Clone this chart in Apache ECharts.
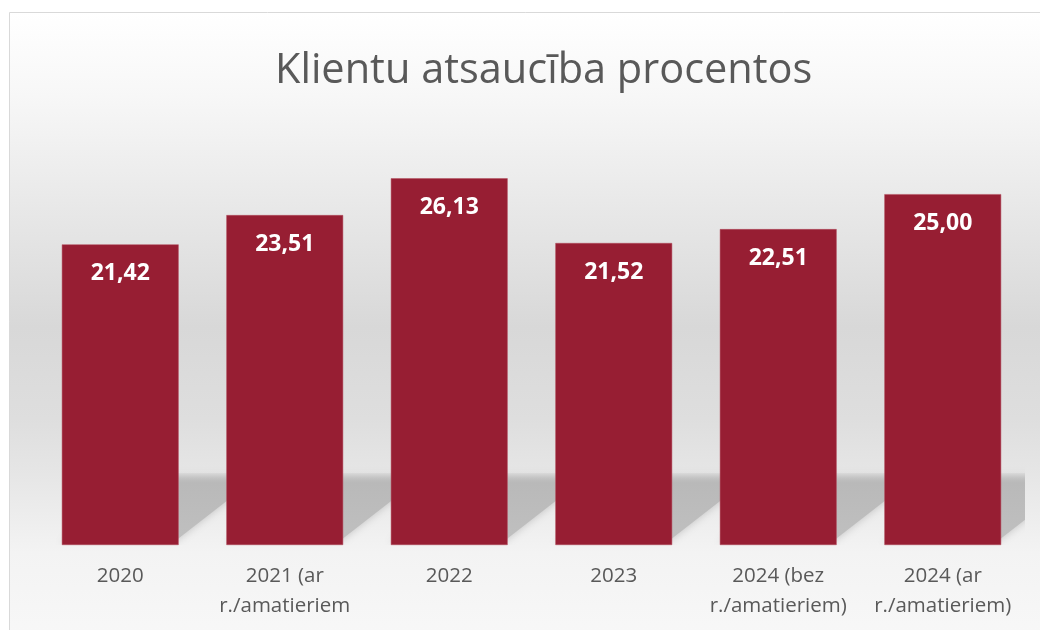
<!DOCTYPE html>
<html>
<head>
<meta charset="utf-8">
<script src="https://cdn.jsdelivr.net/npm/echarts@6/dist/echarts.min.js"></script>
<style>
  html, body { margin: 0; padding: 0; background: #fff; }
  #main { width: 1040px; height: 630px; }
</style>
</head>
<body>
<div id="main"></div>
<script>
const titleText = 'Klientu atsaucība procentos';
const categories = [
  '2020',
  '2021 (ar\nr./amatieriem',
  '2022',
  '2023',
  '2024 (bez\nr./amatieriem)',
  '2024 (ar\nr./amatieriem)'
];
const values = [21.42, 23.51, 26.13, 21.52, 22.51, 25.00];

const BAR_COLOR = '#971e33';
const TEXT_COLOR = '#595959';
const GAP = 0.29;

const chart = echarts.init(document.getElementById('main'), null, { renderer: 'canvas' });

const fmt = v => v.toFixed(2).replace('.', ',');

// soft floor shadow behind each bar
function renderShadow(params, api) {
  const idx = api.value(0);
  const base = api.coord([idx, 0]);
  const w = api.size([1, 0])[0] * (1 - GAP);
  const x0 = base[0] - w / 2;
  const x1 = base[0] + w / 2;
  const yb = base[1];
  return {
    type: 'polygon',
    shape: {
      points: [
        [x0, yb - 2],
        [x1 - 6, yb - 2],
        [x1 + 84, yb - 72],
        [x0 + 84, yb - 72]
      ]
    },
    style: {
      fill: new echarts.graphic.LinearGradient(0, 0, 0, 1, [
        { offset: 0, color: 'rgba(185,185,185,0.2)' },
        { offset: 0.15, color: 'rgba(185,185,185,1)' },
        { offset: 1, color: 'rgba(192,192,192,1)' }
      ]),
      shadowBlur: 8,
      shadowColor: 'rgba(150,150,150,0.5)'
    }
  };
}

const option = {
  backgroundColor: '#ffffff',
  animation: false,
  graphic: [{
    type: 'rect',
    z: -10,
    silent: true,
    shape: { x: 9.5, y: 12.5, width: 1100, height: 700 },
    style: {
      stroke: '#d9d9d9',
      lineWidth: 1,
      fill: new echarts.graphic.LinearGradient(0, 0, 0, 1, [
        { offset: 0, color: '#ffffff' },
        { offset: 0.12, color: '#f7f7f7' },
        { offset: 0.28, color: '#e8e8e8' },
        { offset: 0.45, color: '#d8d8d8' },
        { offset: 0.58, color: '#dedede' },
        { offset: 0.66, color: '#e6e6e6' },
        { offset: 0.77, color: '#f3f3f3' },
        { offset: 0.9, color: '#f8f8f8' },
        { offset: 1, color: '#fafafa' }
      ])
    }
  }],
  title: {
    text: titleText,
    left: 270,
    top: 45,
    textStyle: {
      fontFamily: 'Open Sans',
      fontSize: 41.5,
      fontWeight: 'normal',
      color: TEXT_COLOR
    }
  },
  grid: { left: 38, right: 15, top: 124, bottom: 85 },
  xAxis: {
    type: 'category',
    data: categories,
    axisLine: { show: false },
    axisTick: { show: false },
    axisLabel: {
      margin: 16,
      interval: 0,
      fontFamily: 'Open Sans',
      fontSize: 20.5,
      lineHeight: 30,
      color: TEXT_COLOR
    }
  },
  yAxis: {
    type: 'value',
    min: 0,
    max: 30,
    show: false,
    splitLine: { show: false }
  },
  series: [
    {
      type: 'custom',
      z: 1,
      clip: true,
      silent: true,
      renderItem: renderShadow,
      data: values.map((v, i) => [i, v])
    },
    {
      type: 'bar',
      z: 3,
      data: values,
      barCategoryGap: '29%',
      itemStyle: {
        color: BAR_COLOR,
        borderColor: '#b24c5d',
        borderWidth: 0.5
      },
      label: {
        show: true,
        position: 'insideTop',
        distance: 18,
        formatter: p => fmt(p.value),
        fontFamily: 'Open Sans',
        fontWeight: 'bold',
        fontSize: 23,
        color: '#ffffff'
      }
    }
  ]
};

chart.setOption(option);
</script>
</body>
</html>
